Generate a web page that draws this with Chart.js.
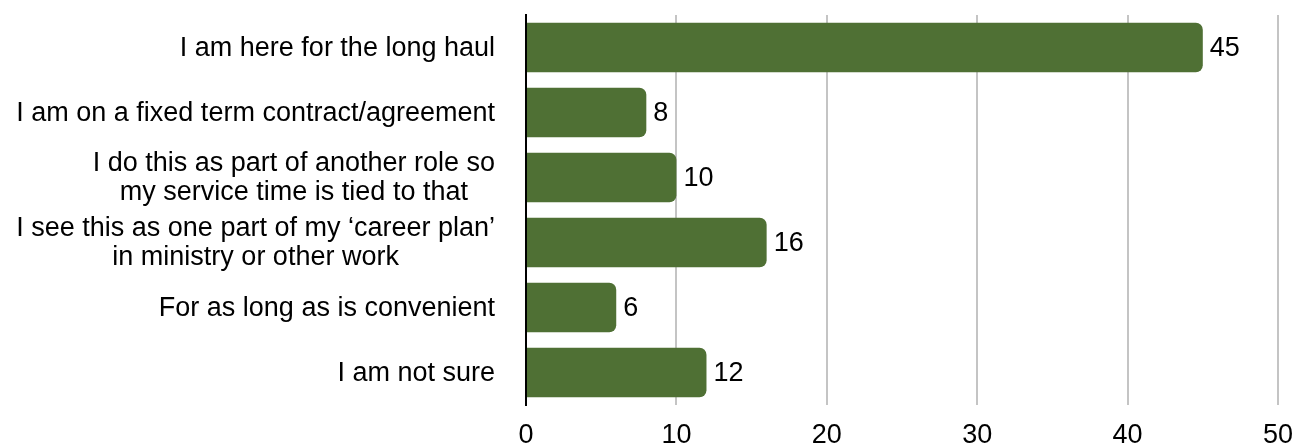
<!DOCTYPE html>
<html>
<head>
<meta charset="utf-8">
<script src="https://cdn.jsdelivr.net/npm/chart.js@4/dist/chart.umd.min.js"></script>
<style>
  html, body { margin: 0; padding: 0; background: #fff; }
  #wrap { width: 1296px; height: 443px; }
</style>
</head>
<body>
<div id="wrap"><canvas id="chart"></canvas></div>
<script>
const categories = [
    ["I am here for the long haul"],
    ["I am on a fixed term contract/agreement"],
    ["I do this as part of another role so", "my service time is tied to that"],
    ["I see this as one part of my \u2018career plan\u2019", "in ministry or other work"],
    ["For as long as is convenient"],
    ["I am not sure"]
];
const responses = [45, 8, 10, 16, 6, 12];
const xTicks = [0, 10, 20, 30, 40, 50];

const FONT = "'Liberation Sans', Arial, Helvetica, sans-serif";
const SIZE = 27;

// value labels at the end of each bar
const valueLabels = {
    id: "valueLabels",
    afterDatasetsDraw(chart) {
        const ctx = chart.ctx;
        const meta = chart.getDatasetMeta(0);
        ctx.save();
        ctx.font = SIZE + "px " + FONT;
        ctx.fillStyle = "#000";
        ctx.textAlign = "left";
        ctx.textBaseline = "middle";
        meta.data.forEach(function (bar, i) {
            ctx.fillText(String(responses[i]), bar.x + 7, bar.y + 1);
        });
        ctx.restore();
    }
};

// category labels: each block right aligned, lines centred within the block
const categoryLabels = {
    id: "categoryLabels",
    afterDraw(chart) {
        const ctx = chart.ctx;
        const yScale = chart.scales.y;
        const right = chart.chartArea.left - 31;
        const lineH = 29;
        ctx.save();
        ctx.font = SIZE + "px " + FONT;
        ctx.fillStyle = "#000";
        ctx.textAlign = "center";
        ctx.textBaseline = "middle";
        categories.forEach(function (lines, i) {
            const y = yScale.getPixelForTick(i);
            const widest = Math.max.apply(null, lines.map(l => ctx.measureText(l).width));
            const cx = right - widest / 2;
            const y0 = y - (lines.length - 1) * lineH / 2;
            lines.forEach(function (line, j) {
                ctx.fillText(line, cx, y0 + j * lineH + 1);
            });
        });
        ctx.restore();
    }
};

new Chart(document.getElementById("chart"), {
    type: "bar",
    data: {
        labels: categories,
        datasets: [{
            data: responses,
            backgroundColor: "#4f7034",
            borderRadius: 7,
            borderSkipped: "start",
            barPercentage: 0.76,
            categoryPercentage: 1
        }]
    },
    options: {
        indexAxis: "y",
        responsive: true,
        maintainAspectRatio: false,
        animation: false,
        layout: { padding: { top: 15, right: 18, left: 0, bottom: 0 } },
        plugins: {
            legend: { display: false },
            tooltip: { enabled: false }
        },
        scales: {
            x: {
                min: 0,
                max: 50,
                afterBuildTicks(scale) {
                    scale.ticks = xTicks.map(v => ({ value: v }));
                },
                afterFit(scale) {
                    scale.height = 38;
                    scale.paddingLeft = 0;
                    scale.paddingRight = 0;
                },
                grid: { color: "#c4c4c4", lineWidth: 2, drawTicks: false },
                border: { display: false },
                ticks: {
                    color: "#000",
                    padding: 14,
                    font: { family: FONT, size: SIZE }
                }
            },
            y: {
                afterFit(scale) { scale.width = 526; },
                grid: { display: false },
                border: { display: true, color: "#000", width: 2 },
                ticks: { display: false }
            }
        }
    },
    plugins: [valueLabels, categoryLabels]
});
</script>
</body>
</html>
